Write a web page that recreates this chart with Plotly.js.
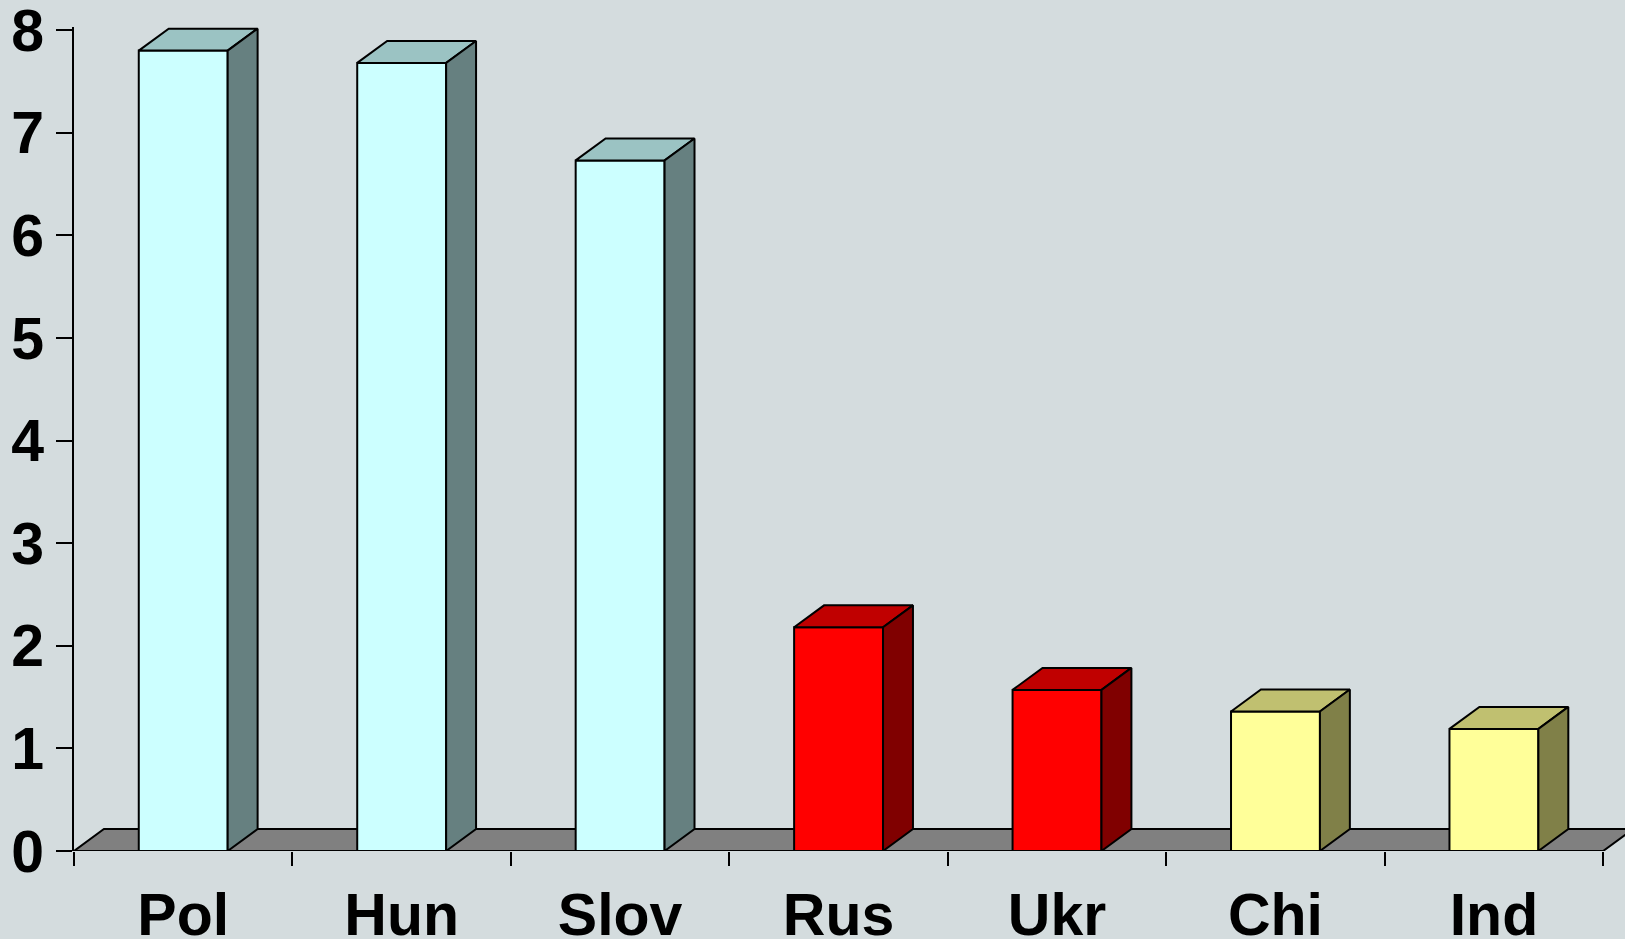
<!DOCTYPE html>
<html>
<head>
<meta charset="utf-8">
<script src="https://cdn.plot.ly/plotly-3.0.1.min.js"></script>
<style>html,body{margin:0;padding:0;background:#D4DCDE;}#chart{width:1625px;height:939px;}</style>
</head>
<body>
<div id="chart"></div>
<script>
// ---- data ----
var categories = ['Pol', 'Hun', 'Slov', 'Rus', 'Ukr', 'Chi', 'Ind'];
var values = [7.8, 7.68, 6.73, 2.18, 1.57, 1.36, 1.19];
var groups = ['A', 'A', 'A', 'B', 'B', 'C', 'C'];
var yTicks = [0, 1, 2, 3, 4, 5, 6, 7, 8];

// ---- style ----
var palette = {
  A: {front: '#CCFFFF', top: '#9BC3C3', side: '#668080'},
  B: {front: '#FF0000', top: '#C00000', side: '#800000'},
  C: {front: '#FFFF99', top: '#C0C070', side: '#808048'}
};
var barW = 0.407;   // bar width in category units
var dx = 0.137;     // depth offset (x, category units)
var dy = 0.214;     // depth offset (y, value units)
var font = 'Liberation Sans, Arial, sans-serif';
var lw = 2;

var xs = categories.map(function (c, i) { return i; });

var traces = [];
// front faces
traces.push({
  type: 'bar', x: xs, y: values, width: barW,
  marker: {color: groups.map(function (g) { return palette[g].front; }),
           line: {color: '#000', width: lw}},
  hoverinfo: 'skip', showlegend: false
});
// top and side faces
values.forEach(function (v, i) {
  var g = palette[groups[i]];
  var l = xs[i] - barW / 2, r = xs[i] + barW / 2;
  traces.push({
    type: 'scatter', mode: 'lines', fill: 'toself', fillcolor: g.top,
    x: [l, l + dx, r + dx, r, l], y: [v, v + dy, v + dy, v, v],
    line: {color: '#000', width: lw}, hoverinfo: 'skip', showlegend: false
  });
  traces.push({
    type: 'scatter', mode: 'lines', fill: 'toself', fillcolor: g.side,
    x: [r, r + dx, r + dx, r, r], y: [0, dy, v + dy, v, 0],
    line: {color: '#000', width: lw}, hoverinfo: 'skip', showlegend: false
  });
});

var x0 = -0.5, x1 = categories.length - 0.5;
var floorPath = 'M ' + x0 + ',0 L ' + (x0 + dx) + ',' + dy + ' L ' + (x1 + dx) + ',' + dy +
                ' L ' + x1 + ',0 Z';

var layout = {
  width: 1625, height: 939,
  margin: {l: 74, r: 0, t: 27, b: 88, pad: 0},
  paper_bgcolor: '#D4DCDE', plot_bgcolor: '#D4DCDE',
  showlegend: false,
  font: {family: font, color: '#000'},
  xaxis: {
    type: 'linear', range: [x0, 6.6], fixedrange: true,
    tickmode: 'array', tickvals: xs, ticktext: categories, ticks: '',
    tickfont: {family: font, size: 59, color: '#000', weight: 'bold'},
    ticklabelstandoff: 24, ticklabeloverflow: 'allow',
    showgrid: false, zeroline: false, showline: false,
    minor: {tickmode: 'linear', tick0: -0.5, dtick: 1, ticks: 'outside', ticklen: 14,
            tickwidth: lw, tickcolor: '#000', showgrid: false}
  },
  yaxis: {
    range: [0, 8.03], fixedrange: true,
    tickmode: 'array', tickvals: yTicks, ticks: 'outside', ticklen: 16, tickwidth: lw,
    tickcolor: '#000', showline: true, linecolor: '#000', linewidth: lw,
    tickfont: {family: font, size: 59, color: '#000', weight: 'bold'},
    ticklabeloverflow: 'allow',
    showgrid: false, zeroline: false
  },
  shapes: [{
    type: 'path', xref: 'x', yref: 'y', path: floorPath, layer: 'below',
    fillcolor: '#808080', line: {color: '#000', width: lw}
  }]
};

Plotly.newPlot('chart', traces, layout, {staticPlot: true, displayModeBar: false});
</script>
</body>
</html>
